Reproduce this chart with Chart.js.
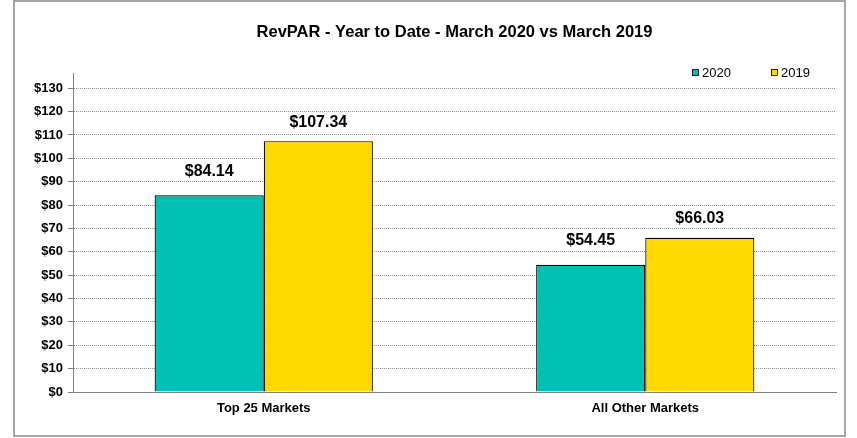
<!DOCTYPE html>
<html lang="en">
<head>
<meta charset="UTF-8">
<title>RevPAR - Year to Date</title>
<script src="https://cdn.jsdelivr.net/npm/chart.js@4.4.1/dist/chart.umd.min.js"></script>
<style>
    html, body { margin: 0; padding: 0; background: #ffffff; }
    #wrap { position: relative; width: 857px; height: 438px; }
</style>
</head>
<body>
<div id="wrap"><canvas id="revpar"></canvas></div>
<script>
// chart data
const categories = ['Top 25 Markets', 'All Other Markets'];
const seriesNames = ['2020', '2019'];
const values2020 = [84.14, 54.45];
const values2019 = [107.34, 66.03];
const tickStep = 10;

const colors = ['#00bfb3', '#ffd900'];
const labelOffsets = [24, 19];

// outer frame, like the Excel chart border
const framePlugin = {
    id: 'frame',
    beforeDraw(chart) {
        const ctx = chart.ctx;
        ctx.save();
        ctx.fillStyle = '#ffffff';
        ctx.fillRect(0, 0, chart.width, chart.height);
        ctx.strokeStyle = '#a6a6a6';
        ctx.lineWidth = 2;
        ctx.strokeRect(14, 1, 831, 435);
        ctx.restore();
    }
};

// "$xx.xx" labels above each bar
const valueLabels = {
    id: 'valueLabels',
    afterDatasetsDraw(chart) {
        const ctx = chart.ctx;
        ctx.save();
        ctx.font = 'bold 16px Arial, "Liberation Sans", sans-serif';
        ctx.fillStyle = '#000000';
        ctx.textAlign = 'center';
        ctx.textBaseline = 'middle';
        chart.data.datasets.forEach((ds, i) => {
            chart.getDatasetMeta(i).data.forEach((bar, j) => {
                ctx.fillText('$' + ds.data[j].toFixed(2), bar.x, bar.y - labelOffsets[i]);
            });
        });
        ctx.restore();
    }
};

// small legend in the top right corner of the plot
const cornerLegend = {
    id: 'cornerLegend',
    afterDraw(chart) {
        const ctx = chart.ctx;
        const xs = [692, 771];
        const y = 72;
        ctx.save();
        ctx.font = '13px Arial, "Liberation Sans", sans-serif';
        ctx.textBaseline = 'middle';
        ctx.textAlign = 'left';
        chart.data.datasets.forEach((ds, i) => {
            ctx.fillStyle = ds.backgroundColor;
            ctx.fillRect(xs[i], y - 3, 7, 7);
            ctx.strokeStyle = '#222222';
            ctx.lineWidth = 1;
            ctx.strokeRect(xs[i] + 0.5, y - 2.5, 6, 6);
            ctx.fillStyle = '#000000';
            ctx.fillText(ds.label, xs[i] + 10, y + 1);
        });
        ctx.restore();
    }
};

new Chart(document.getElementById('revpar'), {
    type: 'bar',
    data: {
        labels: categories,
        datasets: [
            {
                label: seriesNames[0],
                data: values2020,
                backgroundColor: colors[0],
                borderColor: '#000000',
                borderWidth: 1.2
            },
            {
                label: seriesNames[1],
                data: values2019,
                backgroundColor: colors[1],
                borderColor: '#000000',
                borderWidth: 1.2
            }
        ]
    },
    options: {
        responsive: true,
        maintainAspectRatio: false,
        animation: false,
        categoryPercentage: 0.572,
        barPercentage: 1.0,
        layout: { padding: { left: 23, right: 21, top: 0, bottom: 16 } },
        plugins: {
            legend: { display: false },
            tooltip: { enabled: false },
            title: {
                display: true,
                fullSize: false,
                text: 'RevPAR - Year to Date - March 2020 vs March 2019',
                color: '#000000',
                font: { family: 'Arial, "Liberation Sans", sans-serif', size: 16.5, weight: 'bold' },
                padding: { top: 23, bottom: 30.2 }
            }
        },
        scales: {
            x: {
                grid: { display: false, drawTicks: false },
                border: { display: true, color: '#808080', width: 1 },
                ticks: {
                    color: '#000000',
                    padding: 9,
                    font: { family: 'Arial, "Liberation Sans", sans-serif', size: 13, weight: 'bold' }
                },
                afterFit(scale) { scale.height = 30; }
            },
            y: {
                min: 0,
                max: 136.5,
                ticks: {
                    stepSize: tickStep,
                    color: '#000000',
                    padding: 5,
                    font: { family: 'Arial, "Liberation Sans", sans-serif', size: 13, weight: 'bold' },
                    callback: v => '$' + v
                },
                afterBuildTicks(scale) {
                    scale.ticks = scale.ticks.filter(t => t.value % tickStep === 0);
                },
                grid: {
                    color: '#8c8c8c',
                    lineWidth: 1,
                    tickColor: '#808080',
                    tickBorderDash: [],
                    tickLength: 5
                },
                border: { display: true, color: '#808080', width: 1, dash: [1, 1] },
                afterFit(scale) { scale.width = 50; }
            }
        }
    },
    plugins: [framePlugin, valueLabels, cornerLegend]
});
</script>
</body>
</html>
